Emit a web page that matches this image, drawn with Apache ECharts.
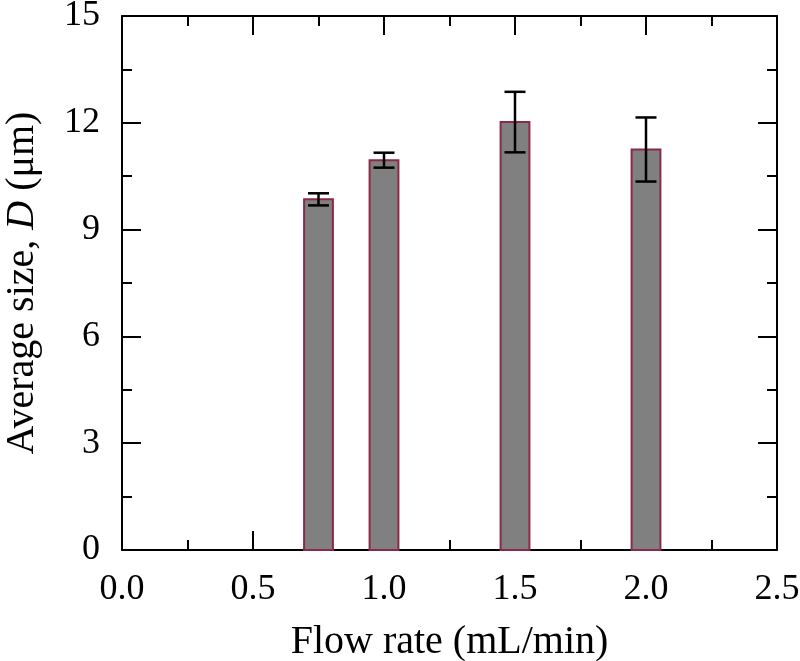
<!DOCTYPE html>
<html><head><meta charset="utf-8">
<script src="https://cdn.jsdelivr.net/npm/echarts@6/dist/echarts.min.js"></script>
<style>html,body{margin:0;padding:0;background:#fff}#c{width:800px;height:661px}</style>
</head><body><div id="c"></div>
<script>
var flowRates = [0.75, 1.0, 1.5, 2.0];
var avgSize = [9.85, 10.95, 12.02, 11.25];
var sizeErr = [0.17, 0.21, 0.85, 0.90];
var xTicks = ['0.0','0.5','1.0','1.5','2.0','2.5'];
var yTicks = ['0','3','6','9','12','15'];
var barWidthUnits = 0.11;

var font = 'Liberation Serif, Times New Roman, serif';
var data = flowRates.map(function(x,i){return [x, avgSize[i], sizeErr[i]];});

var chart = echarts.init(document.getElementById('c'));
function axisCommon(extra){
  var o = {
    axisLine:{show:true,onZero:false,lineStyle:{color:'#000',width:2}},
    axisTick:{show:true,inside:true,length:19,lineStyle:{color:'#000',width:2}},
    minorTick:{show:true,splitNumber:2,length:10,lineStyle:{color:'#000',width:2}},
    splitLine:{show:false}
  };
  for (var k in extra) o[k]=extra[k];
  return o;
}
chart.setOption({
  animation:false,
  grid:{left:122,right:23,top:16,bottom:111,containLabel:false,outerBoundsMode:'none'},
  xAxis:[
    axisCommon({type:'value',position:'bottom',min:0,max:2.5,interval:0.5,
      name:'Flow rate (mL/min)',nameLocation:'middle',nameGap:72,
      nameTextStyle:{fontFamily:font,fontSize:40,color:'#000'},
      axisLabel:{fontFamily:font,fontSize:36,color:'#000',margin:22,
        formatter:function(v){return xTicks[Math.round(v/0.5)];}}}),
    axisCommon({type:'value',position:'top',min:0,max:2.5,interval:0.5,axisLabel:{show:false}})
  ],
  yAxis:[
    axisCommon({type:'value',position:'left',min:0,max:15,interval:3,
      name:'{n|Average size, }{i|D}{n| (\u03bcm)}',nameLocation:'middle',nameGap:80,
      nameTextStyle:{rich:{n:{fontFamily:font,fontSize:40,color:'#000'},i:{fontFamily:font,fontSize:40,fontStyle:'italic',color:'#000'}}},
      axisLabel:{fontFamily:font,fontSize:36,color:'#000',margin:22,
        formatter:function(v){return yTicks[Math.round(v/3)];}}}),
    axisCommon({type:'value',position:'right',min:0,max:15,interval:3,axisLabel:{show:false}})
  ],
  series:[{
    type:'custom',
    data:data,
    encode:{x:0,y:[1,2]},
    renderItem:function(params,api){
      var x=api.value(0), v=api.value(1), e=api.value(2);
      var top=api.coord([x,v]), base=api.coord([x,0]);
      var w=api.size([barWidthUnits,0])[0];
      var hi=api.coord([x,v+e]), lo=api.coord([x,v-e]);
      var cap=21;
      return {type:'group',children:[
        {type:'rect',shape:{x:top[0]-w/2,y:top[1],width:w,height:base[1]-top[1]},
          style:{fill:'#808080',stroke:'#8b2a45',lineWidth:2}},
        {type:'line',shape:{x1:hi[0],y1:hi[1],x2:lo[0],y2:lo[1]},style:{stroke:'#000',lineWidth:2.5}},
        {type:'line',shape:{x1:hi[0]-cap/2,y1:hi[1],x2:hi[0]+cap/2,y2:hi[1]},style:{stroke:'#000',lineWidth:2.5}},
        {type:'line',shape:{x1:lo[0]-cap/2,y1:lo[1],x2:lo[0]+cap/2,y2:lo[1]},style:{stroke:'#000',lineWidth:2.5}}
      ]};
    }
  }]
});
</script></body></html>
